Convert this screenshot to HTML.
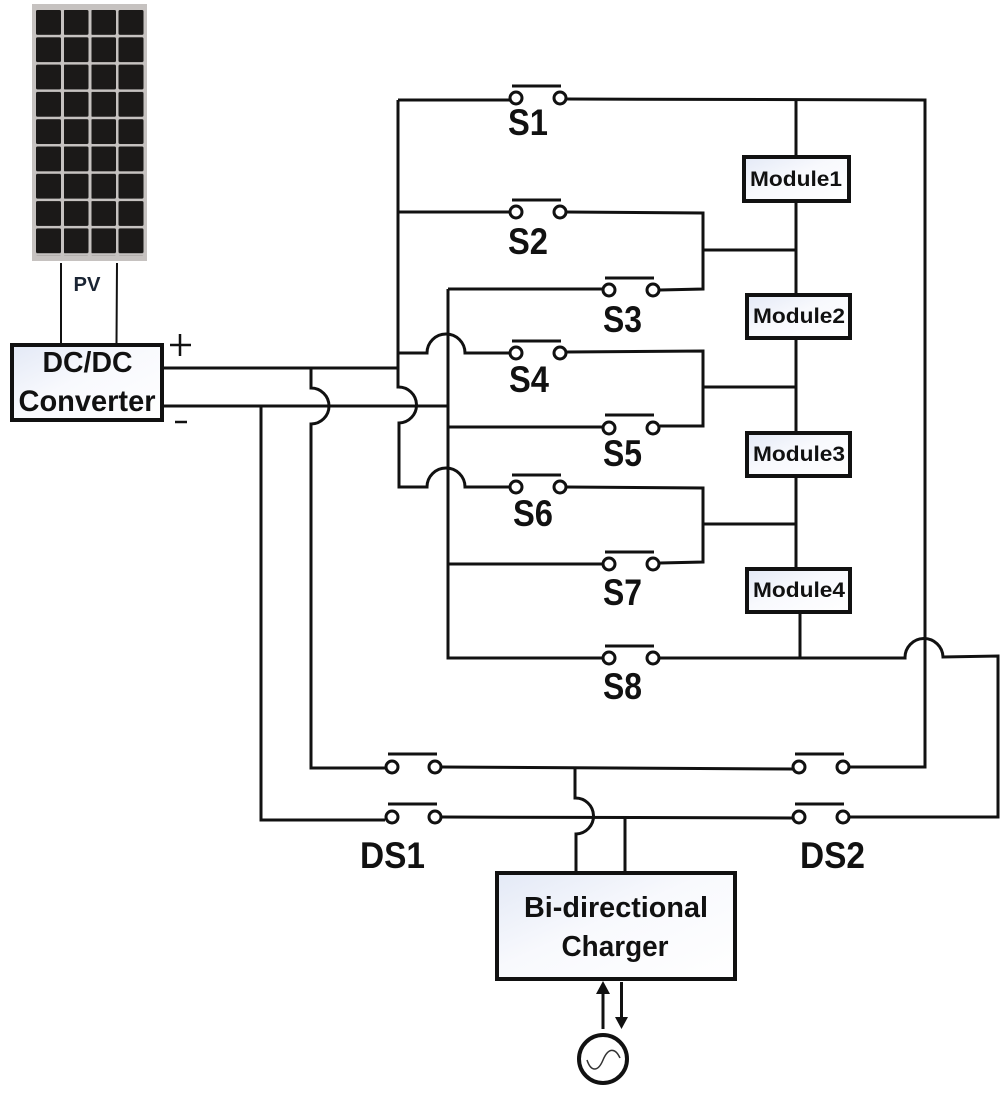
<!DOCTYPE html>
<html><head><meta charset="utf-8"><style>
html,body{margin:0;padding:0;background:#fff}
svg{display:block}
text{font-family:"Liberation Sans",sans-serif;font-weight:bold;fill:#111}
.w{fill:none;stroke:#111;stroke-width:3}
.c{fill:#fff;stroke:#111;stroke-width:3}
.b{stroke:#111;stroke-width:3}
.l{font-size:37px}
.m{font-size:21px}
</style></head><body>
<svg width="1000" height="1093" viewBox="0 0 1000 1093" xmlns="http://www.w3.org/2000/svg">
<defs>
<pattern id="cells" x="36" y="10" width="27.5" height="27.3" patternUnits="userSpaceOnUse"><rect x="0" y="0" width="25" height="24.8" rx="1.5" fill="#1b1918"/></pattern>
<linearGradient id="g" x1="0" y1="0" x2="1" y2="1"><stop offset="0" stop-color="#e3e9f6"/><stop offset=".45" stop-color="#f8f9fd"/><stop offset="1" stop-color="#fff"/></linearGradient>
</defs>
<!-- PV -->
<rect x="32" y="4" width="115" height="257" fill="#c6c2c0"/>
<rect x="36" y="10" width="110" height="245.7" fill="url(#cells)"/>
<path d="M61 263V343M117 263L116.500 343" fill="none" stroke="#111" stroke-width="2"/>
<text x="87" y="291" font-size="20" text-anchor="middle" style="fill:#1a2433" textLength="27" lengthAdjust="spacingAndGlyphs">PV</text>
<!-- DC/DC -->
<rect x="12" y="345" width="150" height="75" fill="url(#g)" stroke="#111" stroke-width="4"/>
<text x="87.500" y="372" font-size="29" text-anchor="middle" textLength="90" lengthAdjust="spacingAndGlyphs">DC/DC</text>
<text x="87" y="411" font-size="30" text-anchor="middle" textLength="137" lengthAdjust="spacingAndGlyphs">Converter</text>
<path d="M170 345H191M180 334V356M175 422H187" fill="none" stroke="#111" stroke-width="2.500"/>
<!-- wires -->
<g class="w">
<path d="M162 368H398"/>
<path d="M162 406H448"/>
<path d="M311 368V388A18 18 0 0 1 311 424V768H385"/>
<path d="M261 406V820H385"/>
<path d="M398 100V387A18 18 0 0 1 399 423V487H427A19 19 0 0 1 465 487H510"/>
<path d="M398 353H427A19 19 0 0 1 465 353H510"/>
<path d="M448 289V658H603"/>
<path d="M448 289H603M448 427H603M448 564H603"/>
<path d="M398 100H510M566 99L925 100V767H850"/>
<path d="M398 212H510M566 212L703 213V289L660 290M703 250H796"/>
<path d="M796 100V157M796 201V295M796 338V433M796 476V569M800 612V658"/>
<path d="M566 352L703 351V426H660M703 387H796"/>
<path d="M566 487L703 488V562L660 563M703 524H796"/>
<path d="M660 658H905A19 19 0 0 1 943 657L998 656V817H850"/>
<path d="M442 767L793 769"/>
<path d="M442 817L793 818"/>
<path d="M575 769V798A18 18 0 0 1 576 834V872M625 818V872"/>
</g>
<!-- switches -->
<g id="sw">
<path class="b" d="M512 86H561M512 200H561M605 278H654M512 341H561M605 415H654M512 475H561M605 552H654M605 646H654M388 754H437M388 804H437M795 754H844M795 804H844"/>
<g class="c">
<circle cx="516" cy="98" r="6"/><circle cx="560" cy="98" r="6"/>
<circle cx="516" cy="212" r="6"/><circle cx="560" cy="212" r="6"/>
<circle cx="609" cy="290" r="6"/><circle cx="653" cy="290" r="6"/>
<circle cx="516" cy="353" r="6"/><circle cx="560" cy="353" r="6"/>
<circle cx="609" cy="428" r="6"/><circle cx="653" cy="428" r="6"/>
<circle cx="516" cy="487" r="6"/><circle cx="560" cy="487" r="6"/>
<circle cx="609" cy="564" r="6"/><circle cx="653" cy="564" r="6"/>
<circle cx="609" cy="658" r="6"/><circle cx="653" cy="658" r="6"/>
<circle cx="392" cy="767" r="6"/><circle cx="435" cy="767" r="6"/>
<circle cx="799" cy="767" r="6"/><circle cx="843" cy="767" r="6"/>
<circle cx="392" cy="817" r="6"/><circle cx="435" cy="817" r="6"/>
<circle cx="799" cy="817" r="6"/><circle cx="843" cy="817" r="6"/>
</g>
</g>
<!-- switch labels -->
<g class="l">
<text x="508" y="135" textLength="40" lengthAdjust="spacingAndGlyphs">S1</text>
<text x="508" y="254" textLength="40" lengthAdjust="spacingAndGlyphs">S2</text>
<text x="603" y="332" textLength="39" lengthAdjust="spacingAndGlyphs">S3</text>
<text x="509" y="392" textLength="40" lengthAdjust="spacingAndGlyphs">S4</text>
<text x="603" y="466" textLength="39" lengthAdjust="spacingAndGlyphs">S5</text>
<text x="513" y="526" textLength="40" lengthAdjust="spacingAndGlyphs">S6</text>
<text x="603" y="605" textLength="39" lengthAdjust="spacingAndGlyphs">S7</text>
<text x="603" y="699" textLength="39" lengthAdjust="spacingAndGlyphs">S8</text>
<text x="360" y="868" textLength="65" lengthAdjust="spacingAndGlyphs">DS1</text>
<text x="800" y="868" textLength="65" lengthAdjust="spacingAndGlyphs">DS2</text>
</g>
<!-- modules -->
<g fill="url(#g)" stroke="#111" stroke-width="4">
<rect x="744" y="157" width="105" height="44"/>
<rect x="747" y="295" width="103" height="43"/>
<rect x="747" y="433" width="103" height="43"/>
<rect x="747" y="569" width="103" height="43"/>
</g>
<g class="m" text-anchor="middle">
<text x="796" y="186" textLength="92" lengthAdjust="spacingAndGlyphs">Module1</text>
<text x="799" y="323" textLength="92" lengthAdjust="spacingAndGlyphs">Module2</text>
<text x="799" y="461" textLength="92" lengthAdjust="spacingAndGlyphs">Module3</text>
<text x="799" y="597" textLength="92" lengthAdjust="spacingAndGlyphs">Module4</text>
</g>
<!-- charger -->
<rect x="497" y="873" width="238" height="106" fill="url(#g)" stroke="#111" stroke-width="4"/>
<text x="616" y="917" font-size="29" text-anchor="middle" textLength="184" lengthAdjust="spacingAndGlyphs">Bi-directional</text>
<text x="615" y="956" font-size="29" text-anchor="middle" textLength="107" lengthAdjust="spacingAndGlyphs">Charger</text>
<!-- arrows and source -->
<path d="M603 1029V990M621.500 982V1020" fill="none" stroke="#111" stroke-width="3"/>
<path d="M596 994L603 981L610 994ZM615 1017H628L621.500 1029Z" fill="#111"/>
<circle cx="603" cy="1059" r="24" fill="#fff" stroke="#111" stroke-width="4"/>
<path d="M587 1060C591 1072 598 1072 603 1060C608 1048 615 1047 620 1058" fill="none" stroke="#333" stroke-width="1.500"/>
</svg>
</body></html>
